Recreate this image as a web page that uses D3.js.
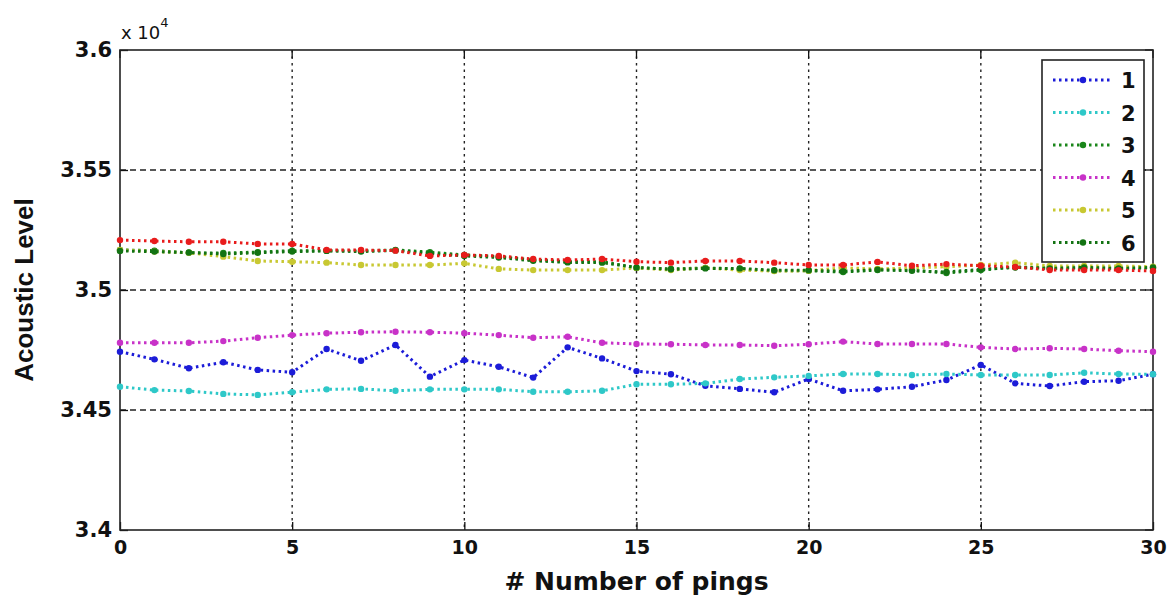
<!DOCTYPE html>
<html>
<head>
<meta charset="utf-8">
<script src="https://d3js.org/d3.v7.min.js"></script>
<style>
  body { margin: 0; background: #fff; }
  text { font-family: "Liberation Sans", Arial, sans-serif; fill: #111; }
</style>
</head>
<body>
<div id="chart"></div>
<script>
// pings 0..30
const pings = d3.range(0, 31);

// acoustic levels (raw units, axis shows x 10^4)
const series1 = [34743,34711,34674,34699,34667,34657,34754,34705,34771,34639,34708,34680,34635,34761,34715,34662,34649,34601,34588,34574,34629,34580,34586,34597,34625,34688,34611,34600,34618,34622,34649];
const series2 = [34597,34583,34579,34567,34563,34574,34586,34588,34580,34586,34586,34586,34576,34576,34580,34607,34607,34611,34629,34636,34642,34650,34650,34646,34650,34646,34646,34646,34655,34650,34649];
const series3 = [35167,35164,35155,35154,35158,35164,35164,35163,35167,35158,35146,35139,35125,35118,35118,35092,35088,35092,35088,35080,35080,35075,35083,35083,35071,35083,35096,35092,35092,35092,35092];
const series4 = [34780,34780,34780,34787,34801,34812,34820,34824,34826,34824,34820,34812,34801,34805,34780,34775,34774,34771,34771,34768,34774,34785,34775,34775,34775,34761,34754,34757,34754,34747,34743];
const series5 = [35167,35160,35155,35139,35121,35118,35114,35104,35104,35104,35111,35088,35083,35083,35083,35092,35083,35092,35083,35079,35080,35092,35088,35092,35097,35104,35114,35100,35100,35100,35097];
const series6 = [35163,35160,35156,35150,35155,35160,35163,35160,35165,35152,35142,35135,35122,35115,35114,35094,35086,35090,35090,35082,35082,35078,35085,35080,35075,35086,35094,35090,35094,35090,35094];
const series7 = [35208,35204,35201,35201,35192,35192,35167,35167,35164,35142,35146,35142,35129,35125,35129,35118,35114,35121,35121,35114,35104,35104,35117,35101,35108,35101,35096,35083,35083,35083,35079];

const seriesNames = ["1", "2", "3", "4", "5", "6", "7"];
const seriesColors = ["#1c1cd8", "#2ec8c8", "#1a861a", "#c832c8", "#c8c832", "#137313", "#e81c1c"];
const legendNames = ["1", "2", "3", "4", "5", "6"]; // red one is not in the legend

const xTicks = [0, 5, 10, 15, 20, 25, 30];
const yTicks = [3.4, 3.45, 3.5, 3.55, 3.6];

const allSeries = [series1, series2, series3, series4, series5, series6, series7];

var width = 1174;
var height = 599;
var margin = { top: 50, right: 21, bottom: 69, left: 120 };
var innerW = width - margin.left - margin.right;
var innerH = height - margin.top - margin.bottom;

var svg = d3.select("#chart")
    .append("svg")
    .attr("width", width)
    .attr("height", height);

var g = svg.append("g")
    .attr("transform", "translate(" + margin.left + "," + margin.top + ")");

var x = d3.scaleLinear().domain([0, 30]).range([0, innerW]);
var y = d3.scaleLinear().domain([3.4, 3.6]).range([innerH, 0]);

// grid lines
g.append("g")
    .selectAll("line")
    .data(xTicks.slice(1, -1))
    .enter()
    .append("line")
    .attr("x1", d => x(d)).attr("x2", d => x(d))
    .attr("y1", 0).attr("y2", innerH)
    .attr("stroke", "#222")
    .attr("stroke-width", 1.4)
    .attr("stroke-dasharray", "2.5,4");

g.append("g")
    .selectAll("line")
    .data(yTicks.slice(1, -1))
    .enter()
    .append("line")
    .attr("x1", 0).attr("x2", innerW)
    .attr("y1", d => y(d)).attr("y2", d => y(d))
    .attr("stroke", "#222")
    .attr("stroke-width", 1.4)
    .attr("stroke-dasharray", "6,4");

// axes with inward ticks
var xAxis = d3.axisBottom(x).tickValues(xTicks).tickSizeInner(-8).tickSizeOuter(0).tickPadding(11)
    .tickFormat(d3.format("d"));
var yAxis = d3.axisLeft(y).tickValues(yTicks).tickSizeInner(-8).tickSizeOuter(0).tickPadding(8)
    .tickFormat(d => String(+d.toFixed(2)));

var gx = g.append("g").attr("transform", "translate(0," + innerH + ")").call(xAxis);
var gy = g.append("g").call(yAxis);
[gx, gy].forEach(a => {
    a.select(".domain").remove();
    a.selectAll("line").attr("stroke", "#111").attr("stroke-width", 1.3);
    a.selectAll("text").attr("fill", "#111")
        .style("font-family", "'DejaVu Sans', sans-serif").style("font-weight", "bold");
});
gx.selectAll("text").style("font-size", "19px");
gy.selectAll("text").style("font-size", "21px");

// right / top ticks
g.append("g").selectAll("line").data(xTicks).enter().append("line")
    .attr("x1", d => x(d)).attr("x2", d => x(d)).attr("y1", 0).attr("y2", 8)
    .attr("stroke", "#111").attr("stroke-width", 1.3);
g.append("g").selectAll("line").data(yTicks).enter().append("line")
    .attr("x1", innerW).attr("x2", innerW - 8).attr("y1", d => y(d)).attr("y2", d => y(d))
    .attr("stroke", "#111").attr("stroke-width", 1.3);

// frame
g.append("rect")
    .attr("width", innerW).attr("height", innerH)
    .attr("fill", "none").attr("stroke", "#222").attr("stroke-width", 1.6);

// lines
var line = d3.line()
    .x((d, i) => x(pings[i]))
    .y(d => y(d / 10000));

allSeries.forEach((s, k) => {
    g.append("path")
        .datum(s)
        .attr("d", line)
        .attr("fill", "none")
        .attr("stroke", seriesColors[k])
        .attr("stroke-width", 3)
        .attr("stroke-dasharray", "2.5,3.5");
    g.append("g")
        .selectAll("circle")
        .data(s)
        .enter()
        .append("circle")
        .attr("cx", (d, i) => x(pings[i]))
        .attr("cy", d => y(d / 10000))
        .attr("r", 3.2)
        .attr("fill", seriesColors[k]);
});

// exponent label
var expo = svg.append("text").attr("x", 121).attr("y", 39)
    .style("font-family", "'DejaVu Sans', sans-serif").style("font-size", "18px");
expo.append("tspan").text("x 10");
expo.append("tspan").attr("dy", -12).style("font-size", "13px").text("4");

// axis labels
svg.append("text")
    .attr("x", margin.left + innerW / 2).attr("y", 590)
    .attr("text-anchor", "middle")
    .style("font-family", "'DejaVu Sans', sans-serif")
    .style("font-size", "25px").style("font-weight", "bold")
    .text("# Number of pings");

svg.append("text")
    .attr("transform", "translate(33," + (margin.top + innerH / 2) + ") rotate(-90)")
    .attr("text-anchor", "middle")
    .style("font-size", "26px").style("font-weight", "bold")
    .text("Acoustic Level");

// legend
var legend = svg.append("g").attr("transform", "translate(1042,60)");
legend.append("rect")
    .attr("width", 102).attr("height", 202)
    .attr("fill", "#fff").attr("stroke", "#222").attr("stroke-width", 1.6);

legendNames.forEach((name, k) => {
    var ly = 20 + k * 32.5;
    legend.append("line")
        .attr("x1", 11).attr("x2", 68).attr("y1", ly).attr("y2", ly)
        .attr("stroke", seriesColors[k]).attr("stroke-width", 3)
        .attr("stroke-dasharray", "2.5,3.5");
    legend.append("circle")
        .attr("cx", 41).attr("cy", ly).attr("r", 3.2)
        .attr("fill", seriesColors[k]);
    legend.append("text")
        .attr("x", 79).attr("y", ly + 8)
        .style("font-family", "'DejaVu Sans', sans-serif")
        .style("font-size", "21px").style("font-weight", "bold")
        .text(name);
});
</script>
</body>
</html>
